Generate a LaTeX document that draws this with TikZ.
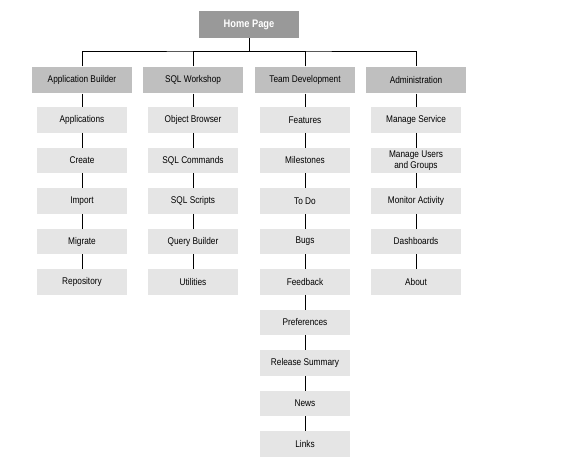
\documentclass[tikz,border=0pt]{standalone}
\usepackage{fontspec}
\setmainfont{Liberation Sans}[FakeStretch=0.85]
\usetikzlibrary{positioning}

\begin{document}
\begin{tikzpicture}[x=0.75pt,y=-0.75pt,
	top/.style={fill=black!40,minimum width=75pt,minimum height=20pt,
	font=\fontsize{8.2}{9.5}\selectfont\bfseries,text=white,inner sep=0pt},
	sect/.style={fill=black!25,minimum width=75pt,minimum height=20pt,
	font=\fontsize{7.3}{8.5}\selectfont,inner sep=0pt},
	item/.style={fill=black!10,minimum width=67.5pt,minimum height=19pt,
	font=\fontsize{7.3}{8.3}\selectfont,align=center,inner sep=0pt}]
\useasboundingbox (0,0) rectangle (563,466);
\node [top] (home) at (249,24.5) {Home Page};
\coordinate (bus) at (249,51);
\node [sect] (ab) at (82,80) {Application Builder};
\node [sect] (sql) at (193,80) {SQL Workshop};
\node [sect] (td) at (305,80) {Team Development};
\node [sect] (adm) at (416,80) {Administration};
\draw (home) -- (bus);
\draw (ab.north) |- (bus) -| (adm.north);
\draw (sql.north) |- (bus);
\draw (td.north) |- (bus);
% application builder
\node [item] (ab1) at (82,120) {Applications};
\node [item] (ab2) at (82,160.5) {Create};
\node [item] (ab3) at (82,201) {Import};
\node [item] (ab4) at (82,241.5) {Migrate};
\node [item] (ab5) at (82,282) {Repository};
\draw (ab)--(ab1)--(ab2)--(ab3)--(ab4)--(ab5);
% sql workshop
\node [item] (sql1) at (193,120) {Object Browser};
\node [item] (sql2) at (193,160.5) {SQL Commands};
\node [item] (sql3) at (193,201) {SQL Scripts};
\node [item] (sql4) at (193,241.5) {Query Builder};
\node [item] (sql5) at (193,282) {Utilities};
\draw (sql)--(sql1)--(sql2)--(sql3)--(sql4)--(sql5);
% team development
\node [item] (td1) at (305,120) {Features};
\node [item] (td2) at (305,160.5) {Milestones};
\node [item] (td3) at (305,201) {To Do};
\node [item] (td4) at (305,241.5) {Bugs};
\node [item] (td5) at (305,282) {Feedback};
\node [item] (td6) at (305,322.5) {Preferences};
\node [item] (td7) at (305,363) {Release Summary};
\node [item] (td8) at (305,403.5) {News};
\node [item] (td9) at (305,444) {Links};
\draw (td)--(td1)--(td2)--(td3)--(td4)--(td5)--(td6)--(td7)--(td8)--(td9);
% administration
\node [item] (adm1) at (416,120) {Manage Service};
\node [item] (adm2) at (416,160.5) {Manage Users\\and Groups};
\node [item] (adm3) at (416,201) {Monitor Activity};
\node [item] (adm4) at (416,241.5) {Dashboards};
\node [item] (adm5) at (416,282) {About};
\draw (adm)--(adm1)--(adm2)--(adm3)--(adm4)--(adm5);
\end{tikzpicture}
\end{document}
